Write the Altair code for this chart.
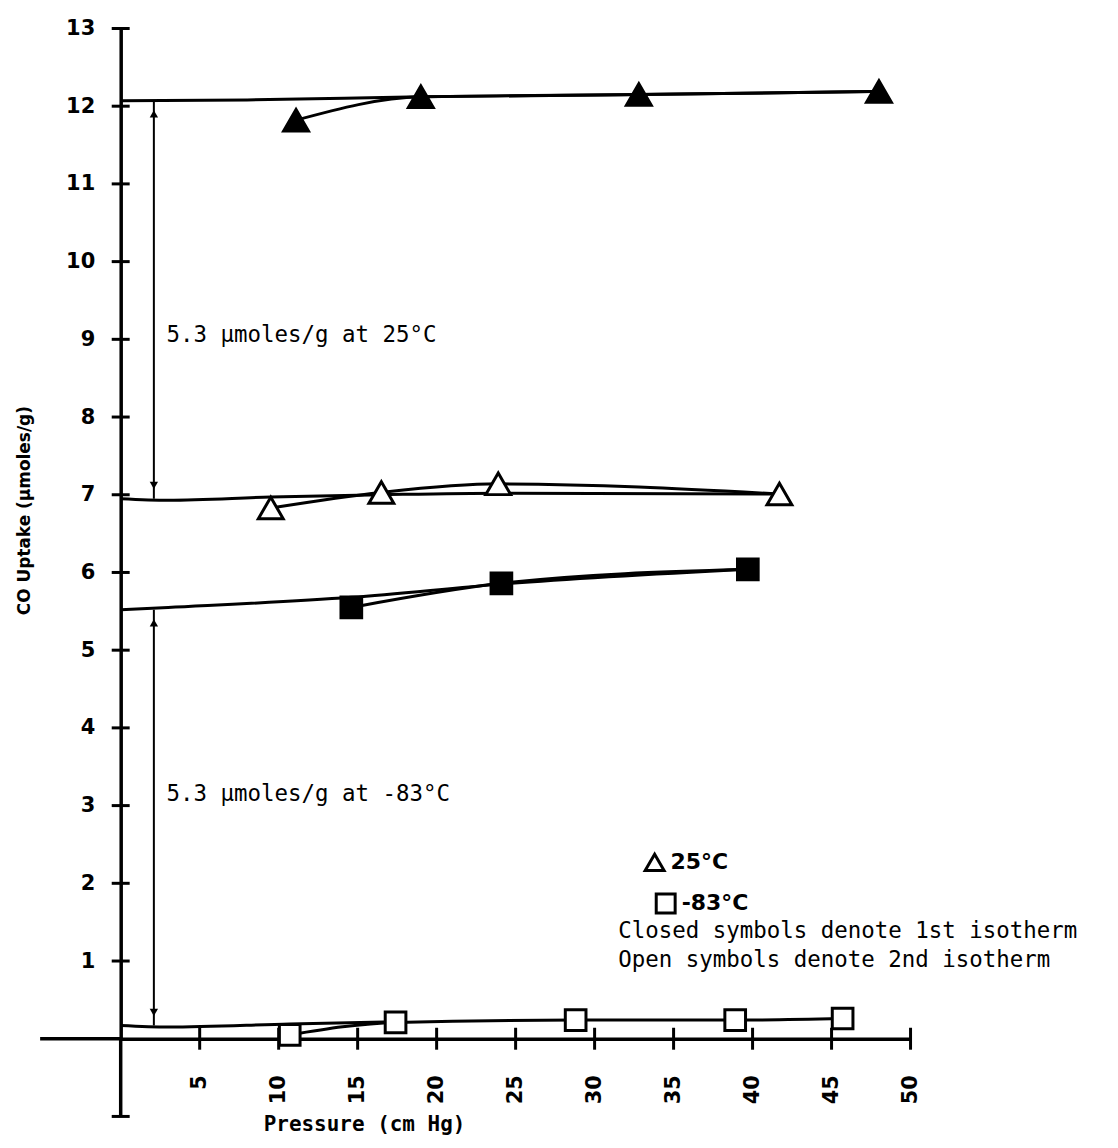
import altair as alt
import pandas as pd

# ---- data ----
# 25 C, 1st isotherm (closed triangles)
t1_x = [11.1, 19.0, 32.8, 48.0]
t1_y = [11.82, 12.12, 12.15, 12.19]
# 25 C, 2nd isotherm (open triangles)
t2_x = [9.5, 16.5, 23.9, 41.7]
t2_y = [6.83, 7.03, 7.14, 7.01]
# -83 C, 1st isotherm (closed squares)
s1_x = [14.6, 24.1, 39.7]
s1_y = [5.55, 5.86, 6.04]
# -83 C, 2nd isotherm (open squares)
s2_x = [10.7, 17.4, 28.8, 38.9, 45.7]
s2_y = [0.05, 0.21, 0.24, 0.24, 0.26]

# extrapolation curves drawn back to zero pressure
f_t1_x = [0, 8, 19.0, 32.8, 48.0]
f_t1_y = [12.07, 12.08, 12.12, 12.15, 12.19]
f_t2_x = [0, 3, 9.5, 16.5, 24.0, 41.7]
f_t2_y = [6.95, 6.93, 6.97, 7.0, 7.02, 7.01]
f_s1_x = [0, 3, 14.6, 24.1, 39.7]
f_s1_y = [5.52, 5.55, 5.68, 5.85, 6.04]
f_s2_x = [0, 3, 10.7, 17.4]
f_s2_y = [0.17, 0.15, 0.19, 0.22]

# double arrows (5.3 umoles/g)
arrow_x = [2.1, 2.1]
arrow_lo = [6.95, 0.17]
arrow_hi = [12.07, 5.52]

x_ticks = [5, 10, 15, 20, 25, 30, 35, 40, 45, 50]
y_ticks = [1, 2, 3, 4, 5, 6, 7, 8, 9, 10, 11, 12, 13]

note_text = ["5.3 \u03bcmoles/g at 25\u00b0C", "5.3 \u03bcmoles/g at -83\u00b0C",
             "Closed symbols denote 1st isotherm", "Open symbols denote 2nd isotherm"]
note_x = [2.9, 2.9, 31.5, 31.5]
note_y = [9.05, 3.15, 1.39, 1.01]

# key (legend) entries
temps = ["25\u00b0C", "-83\u00b0C"]
key_shapes = ["triangle-up", "square"]
key_x = [33.8, 34.5]
key_y = [2.27, 1.74]

# ---- tables ----
rows = []
for xs, ys, ser, tp, iso in [(t1_x, t1_y, "t1", temps[0], "1st"), (t2_x, t2_y, "t2", temps[0], "2nd"),
                             (s1_x, s1_y, "s1", temps[1], "1st"), (s2_x, s2_y, "s2", temps[1], "2nd")]:
    for a, b in zip(xs, ys):
        rows.append({"x": a, "y": b, "series": ser, "temp": tp, "iso": iso})
pts = pd.DataFrame(rows)

frows = []
for xs, ys, ser in [(f_t1_x, f_t1_y, "t1"), (f_t2_x, f_t2_y, "t2"), (f_s1_x, f_s1_y, "s1"), (f_s2_x, f_s2_y, "s2")]:
    for a, b in zip(xs, ys):
        frows.append({"x": a, "y": b, "curve": ser})
fits = pd.DataFrame(frows)

arrows = pd.DataFrame({"x": arrow_x, "y": arrow_lo, "y2": arrow_hi})
heads_up = pd.DataFrame({"x": arrow_x, "y": [h - 0.17 for h in arrow_hi]})
heads_dn = pd.DataFrame({"x": arrow_x, "y": [l + 0.17 for l in arrow_lo]})
xt = pd.DataFrame({"x": x_ticks, "y": [0] * len(x_ticks)})
yt = pd.DataFrame({"x": [0] * (len(y_ticks) + 1), "y": [-1] + y_ticks})
ext = pd.DataFrame({"x": [-5.1, 0], "x2": [0, 0], "y": [0, 0], "y2": [0, -1]})
notes = pd.DataFrame({"x": note_x, "y": note_y, "text": note_text})
key = pd.DataFrame({"x": key_x, "y": key_y, "temp": temps, "iso": ["2nd", "2nd"]})

# ---- scales & axes ----
xs_ = alt.Scale(domain=[0, 50], nice=False, zero=False)
ys_ = alt.Scale(domain=[0, 13], nice=False, zero=False)
x_axis = alt.Axis(values=x_ticks, labelAngle=270, labelFont="DejaVu Sans", labelFontWeight="bold",
                  labelFontSize=21, labelColor="black", labelPadding=36, ticks=False, grid=False,
                  domainColor="black", domainWidth=3.5, title="Pressure (cm Hg)",
                  titleFont="DejaVu Sans Mono", titleFontWeight="bold", titleFontSize=21, titleColor="black",
                  titleX=244, titleY=92, titleBaseline="alphabetic", titleAlign="center")
y_axis = alt.Axis(values=y_ticks, labelFont="DejaVu Sans", labelFontWeight="bold", labelFontSize=21,
                  labelColor="black", labelPadding=26, ticks=False, grid=False, domainColor="black",
                  domainWidth=3.5, title="CO Uptake (\u03bcmoles/g)", titleFont="DejaVu Sans",
                  titleFontWeight="bold", titleFontSize=17, titleColor="black", titleAngle=270,
                  titleX=-96, titleY=483, titleAlign="center", titleBaseline="middle")

X = alt.X("x:Q", scale=xs_, axis=x_axis)
Y = alt.Y("y:Q", scale=ys_, axis=y_axis)
SHAPE = alt.Shape("temp:N", scale=alt.Scale(domain=temps, range=key_shapes), legend=None)
FILL = alt.Fill("iso:N", scale=alt.Scale(domain=["1st", "2nd"], range=["black", "white"]), legend=None)

ext_l = alt.Chart(ext).mark_rule(color="black", strokeWidth=3.5).encode(x=X, x2="x2:Q", y=Y, y2="y2:Q")
yt_l = alt.Chart(yt).mark_tick(orient="horizontal", size=18, thickness=3, color="black", opacity=1).encode(x=X, y=Y)
xt_l = alt.Chart(xt).mark_tick(orient="vertical", size=22, thickness=3, color="black", opacity=1).encode(x=X, y=Y)

fit_l = alt.Chart(fits).mark_line(color="black", strokeWidth=3, interpolate="monotone").encode(
    x=X, y=Y, detail="curve:N", order="x:Q")
line_l = alt.Chart(pts).mark_line(color="black", strokeWidth=3, interpolate="monotone").encode(
    x=X, y=Y, detail="series:N", order="x:Q")

arr_l = alt.Chart(arrows).mark_rule(color="black", strokeWidth=2).encode(x=X, y=Y, y2="y2:Q")
hu_l = alt.Chart(heads_up).mark_point(shape="triangle-up", filled=True, color="black", size=70, opacity=1).encode(x=X, y=Y)
hd_l = alt.Chart(heads_dn).mark_point(shape="triangle-down", filled=True, color="black", size=70, opacity=1).encode(x=X, y=Y)

tri_l = alt.Chart(pts).transform_filter(alt.datum.temp == temps[0]).mark_point(
    filled=True, stroke="black", strokeWidth=3, opacity=1, size=620).encode(x=X, y=Y, shape=SHAPE, fill=FILL)
sq_l = alt.Chart(pts).transform_filter(alt.datum.temp == temps[1]).mark_point(
    filled=True, stroke="black", strokeWidth=3, opacity=1, size=430).encode(x=X, y=Y, shape=SHAPE, fill=FILL)

key_pt = alt.Chart(key).mark_point(filled=True, stroke="black", strokeWidth=3, opacity=1, size=360).encode(
    x=X, y=Y, shape=SHAPE, fill=FILL)
key_tx = alt.Chart(key).mark_text(align="left", baseline="middle", dx=16, font="DejaVu Sans",
                                  fontSize=22, fontWeight="bold", color="black").encode(x=X, y=Y, text="temp:N")

note_l = alt.Chart(notes).mark_text(align="left", baseline="middle", font="DejaVu Sans Mono",
                                    fontSize=22.5, color="black").encode(x=X, y=Y, text="text:N")

chart = alt.layer(ext_l, yt_l, xt_l, fit_l, line_l, arr_l, hu_l, hd_l, tri_l, sq_l, key_pt, key_tx, note_l).properties(
    width=792, height=1013,
    padding={"left": 113, "top": 19, "right": 200, "bottom": 96},
    autosize=alt.AutoSizeParams(type="none"),
    background="white",
).configure_view(stroke="transparent", strokeWidth=0)

chart.save("out.html", embed_options={"renderer": "svg", "actions": False})
